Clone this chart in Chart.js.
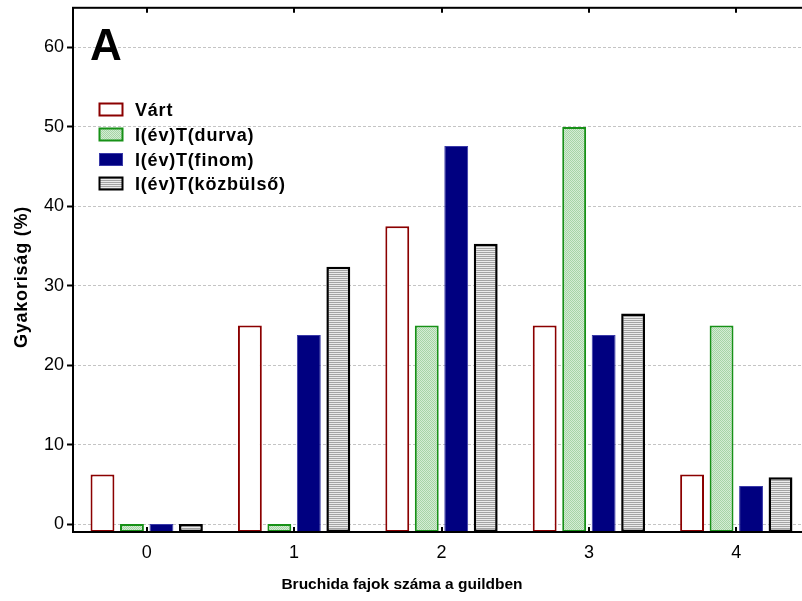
<!DOCTYPE html>
<html><head><meta charset="utf-8">
<script src="https://cdn.jsdelivr.net/npm/chart.js@4/dist/chart.umd.min.js"></script>
<style>html,body{margin:0;padding:0;background:#fff;overflow:hidden}#wrap{width:812px;height:607px;position:relative;margin-top:-6px}</style>
</head><body><div id="wrap"><canvas id="c" width="812" height="607"></canvas></div>
<script>
const categories = ['0', '1', '2', '3', '4'];
const seriesNames = ['Várt', 'I(év)T(durva)', 'I(év)T(finom)', 'I(év)T(közbülső)'];
const vart = [6.25, 25, 37.5, 25, 6.25];
const durva = [0, 0, 25, 50, 25];
const finom = [0, 23.8, 47.6, 23.8, 4.8];
const kozbulso = [0, 32.4, 35.3, 26.5, 5.9];
const yTicks = [0, 10, 20, 30, 40, 50, 60];
const xTitle = 'Bruchida fajok száma a guildben';
const yTitle = 'Gyakoriság (%)';
const panelLabel = 'A';

const FONT = '"Liberation Sans", Arial, sans-serif';
const OY = 6; // canvas is shifted up by this many px

function greenPattern() {
  const c = document.createElement('canvas'); c.width = 2; c.height = 2;
  const x = c.getContext('2d');
  x.fillStyle = '#d4ecd4'; x.fillRect(0, 0, 2, 2);
  x.fillStyle = '#a6d4a6'; x.fillRect(0, 0, 1, 1); x.fillRect(1, 1, 1, 1);
  return x.createPattern(c, 'repeat');
}
function grayPattern() {
  const c = document.createElement('canvas'); c.width = 2; c.height = 2;
  const x = c.getContext('2d');
  x.fillStyle = '#ebebeb'; x.fillRect(0, 0, 2, 2);
  x.fillStyle = '#a4a4a4'; x.fillRect(0, 0, 2, 1);
  return x.createPattern(c, 'repeat');
}

const styles = [
  { bg: '#ffffff', border: '#8b0000', bw: 2 },
  { bg: greenPattern(), border: '#179117', bw: 2 },
  { bg: '#000080', border: '#3a3aa8', bw: 1 },
  { bg: grayPattern(), border: '#000000', bw: 2.5 }
];
const seriesData = [vart, durva, finom, kozbulso];

const deco = {
  id: 'deco',
  afterDraw(chart) {
    const { ctx, chartArea: a, scales: { x } } = chart;
    ctx.save();
    ctx.strokeStyle = '#000'; ctx.lineWidth = 2;
    categories.forEach((c, i) => {
      const px = Math.round(x.getPixelForValue(i));
      ctx.beginPath(); ctx.moveTo(px, a.bottom); ctx.lineTo(px, a.bottom - 5); ctx.stroke();
      ctx.beginPath(); ctx.moveTo(px, a.top); ctx.lineTo(px, a.top + 5); ctx.stroke();
    });
    ctx.strokeStyle = '#000'; ctx.lineWidth = 2;
    ctx.strokeRect(a.left, a.top, a.right - a.left, a.bottom - a.top);
    ctx.fillStyle = '#000';
    ctx.font = 'bold 44px ' + FONT;
    ctx.textAlign = 'left'; ctx.textBaseline = 'alphabetic';
    ctx.fillText(panelLabel, 90, 60 + OY);
    const rows = [103, 128, 153, 177];
    ctx.font = 'bold 18px ' + FONT;
    ctx.letterSpacing = '0.8px';
    ctx.textBaseline = 'middle';
    chart.data.datasets.forEach((ds, i) => {
      const y = rows[i] + OY;
      ctx.fillStyle = ds.backgroundColor;
      ctx.fillRect(99, y, 24, 13);
      ctx.strokeStyle = ds.borderColor; ctx.lineWidth = Math.min(ds.borderWidth, 2);
      ctx.strokeRect(99 + 0.5, y + 0.5, 23, 12);
      ctx.fillStyle = '#000';
      ctx.fillText(ds.label, 135, y + 8);
    });
    ctx.letterSpacing = '0px';
    ctx.font = 'bold 15.5px ' + FONT;
    ctx.textAlign = 'center'; ctx.textBaseline = 'middle';
    ctx.fillText(xTitle, 402, 585 + OY);
    ctx.save();
    ctx.translate(22, 277 + OY); ctx.rotate(-Math.PI / 2);
    ctx.font = 'bold 18px ' + FONT;
    ctx.letterSpacing = '0.8px';
    ctx.fillText(yTitle, 0, 0);
    ctx.restore();
    ctx.restore();
  }
};

new Chart(document.getElementById('c'), {
  type: 'bar',
  data: {
    labels: categories,
    datasets: seriesNames.map((n, i) => ({
      label: n,
      data: seriesData[i],
      base: -1,
      backgroundColor: styles[i].bg,
      borderColor: styles[i].border,
      borderWidth: styles[i].bw,
      borderSkipped: false,
      categoryPercentage: 0.8,
      barPercentage: 0.81
    }))
  },
  options: {
    responsive: false,
    animation: false,
    layout: { padding: { top: 2, right: 2, left: 0, bottom: 0 } },
    plugins: { legend: { display: false }, tooltip: { enabled: false } },
    scales: {
      x: {
        grid: { display: false },
        border: { display: false },
        ticks: { color: '#000', font: { family: FONT, size: 18 }, padding: 2 },
        afterFit(s) { s.height = 69; }
      },
      y: {
        min: -1, max: 65,
        afterBuildTicks(s) { s.ticks = yTicks.map(v => ({ value: v })); },
        grid: { color: '#c4c4c4', lineWidth: 1, tickLength: 6, tickColor: '#000', tickWidth: 2, tickBorderDash: [] },
        border: { display: false, dash: [3, 2] },
        ticks: { color: '#000', font: { family: FONT, size: 18 }, padding: 3 },
        afterFit(s) { s.width = 73; }
      }
    }
  },
  plugins: [deco]
});
</script></body></html>
